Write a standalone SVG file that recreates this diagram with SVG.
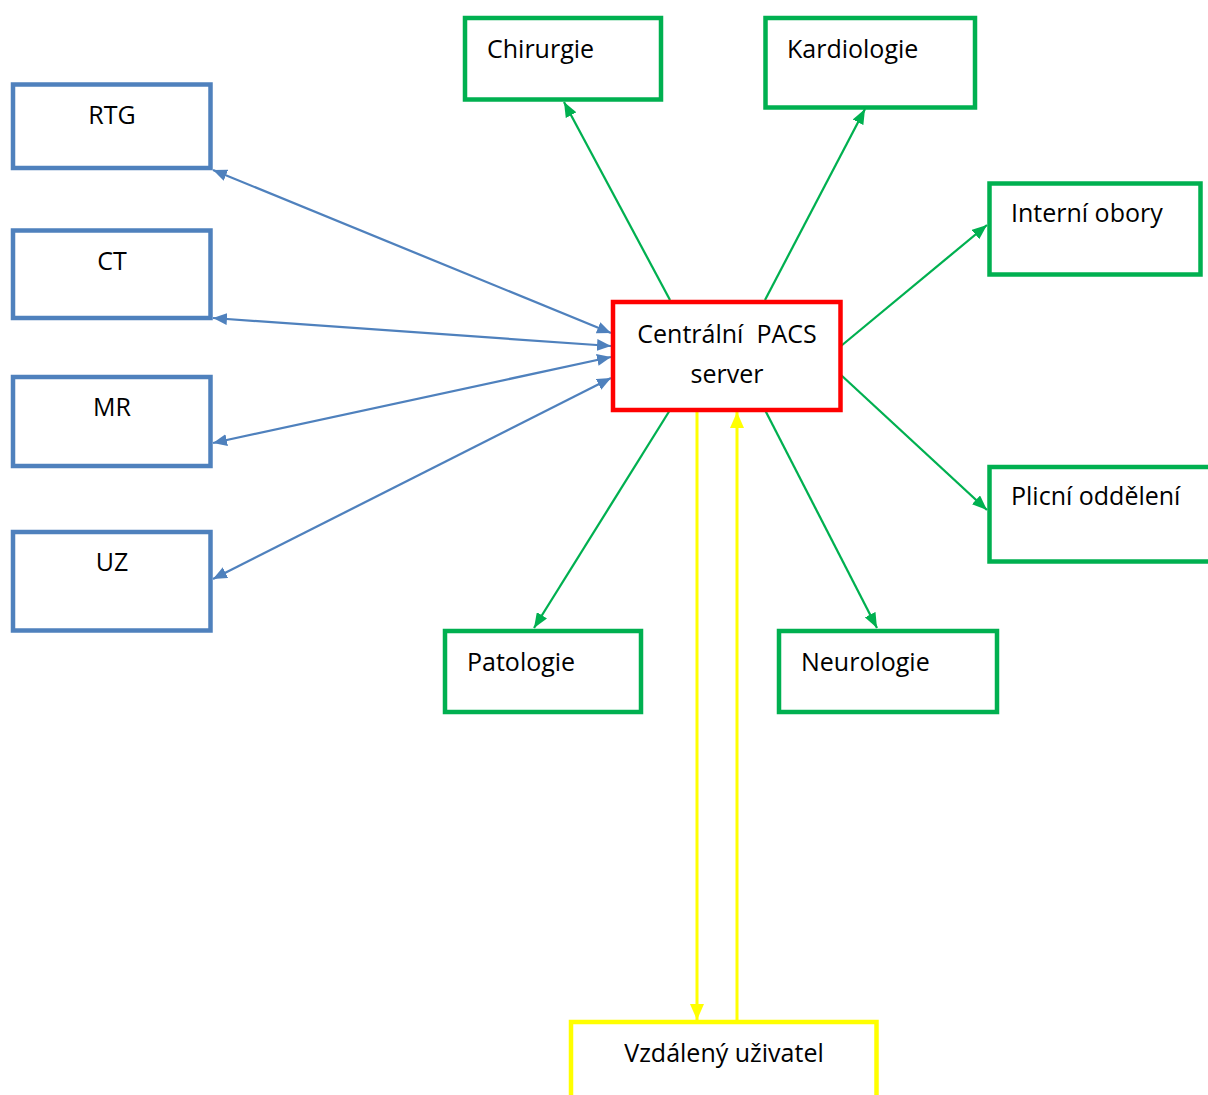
<svg xmlns="http://www.w3.org/2000/svg" width="1208" height="1095" viewBox="0 0 1208 1095">
<style>
  text { font-family: "Open Sans", "Noto Sans", "Liberation Sans", sans-serif; font-size: 25px; fill: #000; }
  .c { text-anchor: middle; }
  .blue { fill: #fff; stroke: #4F81BD; stroke-width: 4.5; }
  .green { fill: #fff; stroke: #00B050; stroke-width: 4.5; }
  .red { fill: #fff; stroke: #FF0000; stroke-width: 4.5; }
  .yellow { fill: #fff; stroke: #FFFF00; stroke-width: 4.5; }
  .lb { stroke: #4F81BD; stroke-width: 2.25; fill: none; marker-start: url(#ab); marker-end: url(#ab); }
  .lg { stroke: #00B050; stroke-width: 2.25; fill: none; marker-end: url(#ag); }
  .ly { stroke: #FFFF00; stroke-width: 3; fill: none; marker-end: url(#ay); }
</style>
<defs>
  <marker id="ab" markerUnits="userSpaceOnUse" viewBox="0 0 14 12" refX="14" refY="6" markerWidth="14" markerHeight="12" orient="auto-start-reverse">
    <path d="M0,0 L14,6 L0,12 Z" fill="#4F81BD"/>
  </marker>
  <marker id="ag" markerUnits="userSpaceOnUse" viewBox="0 0 15 12" refX="15" refY="6" markerWidth="15" markerHeight="12" orient="auto">
    <path d="M0,0 L15,6 L0,12 Z" fill="#00B050"/>
  </marker>
  <marker id="ay" markerUnits="userSpaceOnUse" viewBox="0 0 16 14" refX="16" refY="7" markerWidth="16" markerHeight="14" orient="auto">
    <path d="M0,0 L16,7 L0,14 Z" fill="#FFFF00"/>
  </marker>
</defs>
<rect width="1208" height="1095" fill="#fff"/>

<g id="connectors">
  <line class="lb" x1="213" y1="170" x2="611" y2="333"/>
  <line class="lb" x1="213" y1="318" x2="611" y2="346"/>
  <line class="lb" x1="213" y1="443" x2="611" y2="357"/>
  <line class="lb" x1="213" y1="579" x2="611" y2="378"/>
  <line class="lg" x1="670" y1="300" x2="564" y2="102"/>
  <line class="lg" x1="765" y1="300" x2="865" y2="109"/>
  <line class="lg" x1="841" y1="346" x2="987" y2="225"/>
  <line class="lg" x1="841" y1="375" x2="987" y2="510"/>
  <line class="lg" x1="670" y1="410" x2="534" y2="628"/>
  <line class="lg" x1="765" y1="410" x2="877" y2="628"/>
  <line class="ly" x1="697" y1="411" x2="697" y2="1020"/>
  <line class="ly" x1="737" y1="1020" x2="737" y2="412"/>
</g>

<g id="pacs">
  <rect class="red" x="613" y="302" width="227.5" height="108"/>
  <text class="c" x="727" y="343" xml:space="preserve">Centrální  PACS</text>
  <text class="c" x="727" y="383">server</text>
</g>

<g id="rtg">
  <rect class="blue" x="13" y="84.5" width="197.5" height="83.5"/>
  <text class="c" x="112" y="124">RTG</text>
</g>
<g id="ct">
  <rect class="blue" x="13" y="230.5" width="197.5" height="87.5"/>
  <text class="c" x="112" y="270">CT</text>
</g>
<g id="mr">
  <rect class="blue" x="13" y="377" width="197.5" height="89"/>
  <text class="c" x="112" y="416">MR</text>
</g>
<g id="uz">
  <rect class="blue" x="13" y="532" width="197.5" height="98.5"/>
  <text class="c" x="112" y="571">UZ</text>
</g>

<g id="chirurgie">
  <rect class="green" x="465" y="18" width="196" height="81.5"/>
  <text x="487" y="58">Chirurgie</text>
</g>
<g id="kardiologie">
  <rect class="green" x="765.5" y="18" width="209.5" height="89.5"/>
  <text x="787" y="58">Kardiologie</text>
</g>
<g id="interni">
  <rect class="green" x="989.5" y="183.5" width="211" height="91"/>
  <text x="1011" y="222">Interní obory</text>
</g>
<g id="plicni">
  <rect class="green" x="989.5" y="467" width="230" height="94.5"/>
  <text x="1011" y="505">Plicní oddělení</text>
</g>
<g id="patologie">
  <rect class="green" x="445" y="631" width="196" height="81"/>
  <text x="467" y="671">Patologie</text>
</g>
<g id="neurologie">
  <rect class="green" x="779" y="631" width="218" height="81"/>
  <text x="801" y="671">Neurologie</text>
</g>

<g id="vzdaleny">
  <rect class="yellow" x="571" y="1022" width="305.5" height="100"/>
  <text class="c" x="724" y="1062">Vzdálený uživatel</text>
</g>
</svg>
